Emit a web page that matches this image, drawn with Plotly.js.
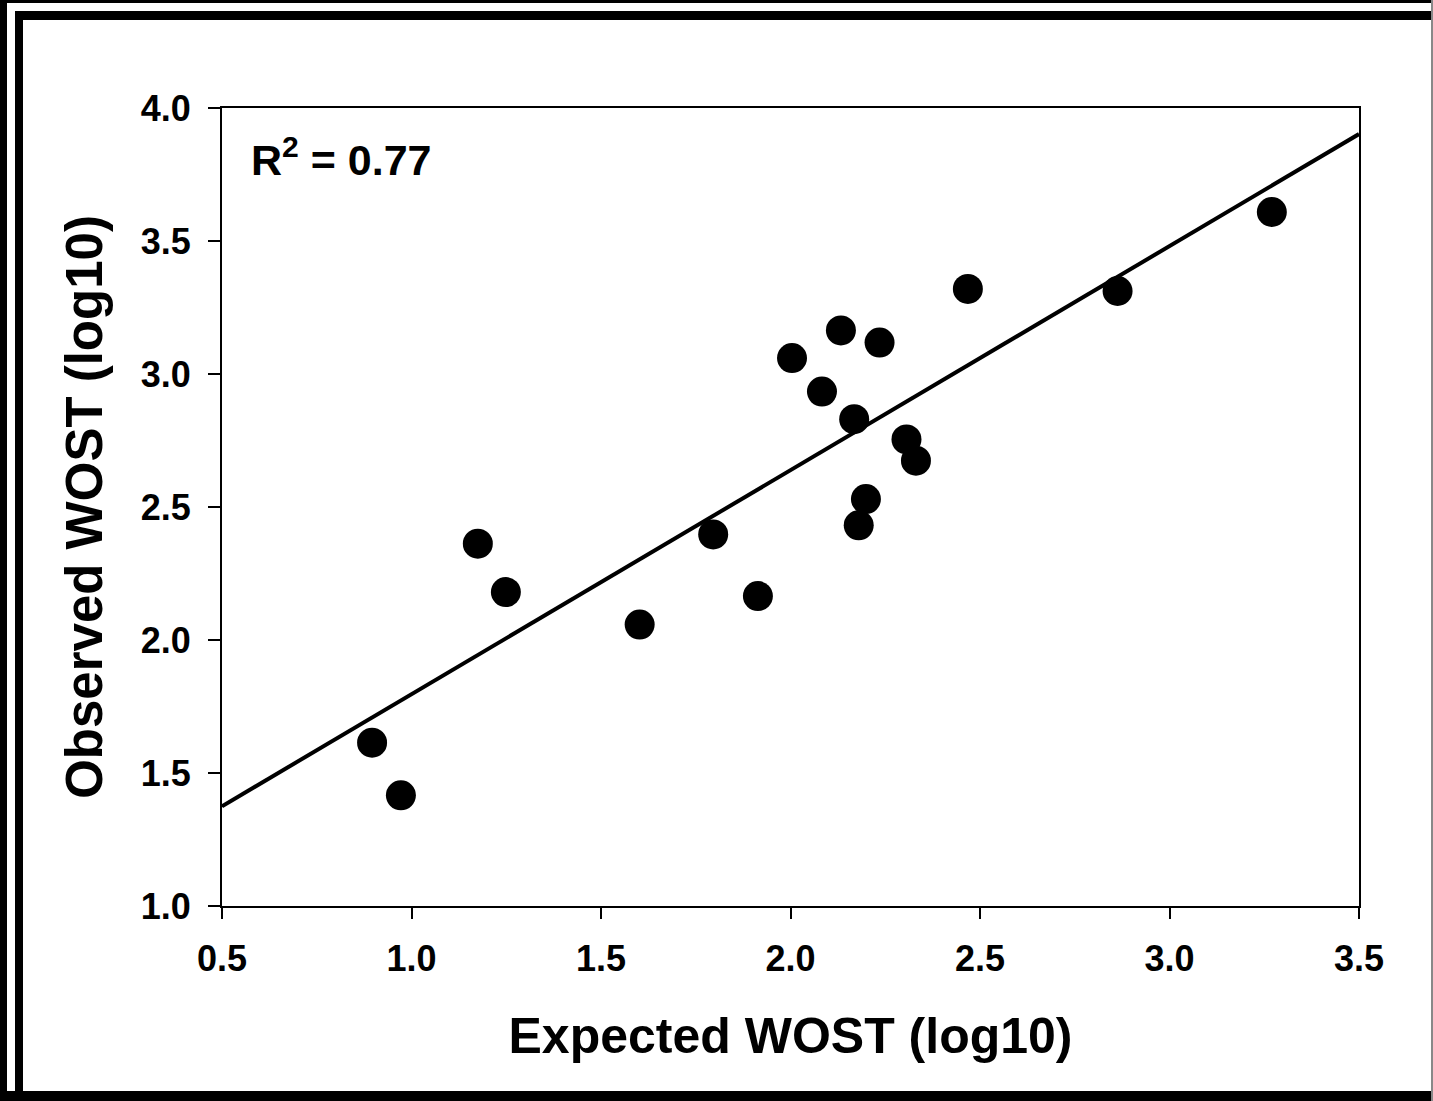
<!DOCTYPE html>
<html>
<head>
<meta charset="utf-8">
<script src="https://cdn.plot.ly/plotly-3.0.1.min.js"></script>
<style>
  html, body { margin: 0; padding: 0; background: #fff; }
  #wrap { position: relative; width: 1433px; height: 1101px; overflow: hidden; background: #fff; }
  #chart { position: absolute; left: 0; top: 0; width: 1433px; height: 1101px; }
  .fr { position: absolute; background: #000; }
</style>
</head>
<body>
<div id="wrap">
  <div id="chart"></div>
  <div class="fr" style="left:0;top:0;width:7px;height:1101px;"></div>
  <div class="fr" style="left:0;top:0;width:1433px;height:3px;"></div>
  <div class="fr" style="left:15px;top:11px;width:8px;height:1090px;"></div>
  <div class="fr" style="left:15px;top:11px;width:1418px;height:9px;"></div>
  <div class="fr" style="left:0;top:1091px;width:1433px;height:10px;"></div>
  <div class="fr" style="left:1431px;top:0;width:2px;height:1101px;background:#888;"></div>
</div>
<script>
// Observations: expected vs observed WOST (log10)
const expectedWOST = [0.896, 0.972, 1.175, 1.249, 1.602, 1.796, 1.914, 2.004, 2.083, 2.133,
                      2.168, 2.180, 2.199, 2.235, 2.306, 2.331, 2.468, 2.863, 3.270];
const observedWOST = [1.614, 1.416, 2.362, 2.180, 2.058, 2.397, 2.165, 3.060, 2.934, 3.164,
                      2.830, 2.431, 2.530, 3.118, 2.754, 2.674, 3.320, 3.312, 3.609];
// Regression line end points
const fitX = [0.5, 3.5];
const fitY = [1.375, 3.902];
const r2Label = "R<sup>2</sup> = 0.77";
const xTicks = [0.5, 1.0, 1.5, 2.0, 2.5, 3.0, 3.5];
const xTickText = ["0.5", "1.0", "1.5", "2.0", "2.5", "3.0", "3.5"];
const yTicks = [1.0, 1.5, 2.0, 2.5, 3.0, 3.5, 4.0];
const yTickText = ["1.0", "1.5", "2.0", "2.5", "3.0", "3.5", "4.0"];

const FONT = "Liberation Sans, Arial, sans-serif";

const traces = [
  {
    x: fitX, y: fitY, type: "scatter", mode: "lines",
    line: { color: "#000", width: 4 }, hoverinfo: "skip", showlegend: false
  },
  {
    x: expectedWOST, y: observedWOST, type: "scatter", mode: "markers",
    marker: { color: "#000", size: 30, line: { width: 0 } }, showlegend: false
  }
];

const layout = {
  width: 1433, height: 1101,
  paper_bgcolor: "#fff", plot_bgcolor: "#fff",
  margin: { l: 222, r: 74, t: 108, b: 195 },
  font: { family: FONT, color: "#000", weight: "bold" },
  showlegend: false,
  xaxis: {
    range: [0.5, 3.5], autorange: false,
    tickvals: xTicks, ticktext: xTickText,
    ticks: "outside", ticklen: 11, tickwidth: 2, tickcolor: "#000",
    showline: true, linewidth: 2, linecolor: "#000", mirror: true,
    showgrid: false, zeroline: false,
    tickfont: { family: FONT, size: 36, color: "#000", weight: "bold" },
    ticklabelstandoff: 9,
    title: { text: "Expected WOST (log10)", font: { family: FONT, size: 50, color: "#000", weight: "bold" }, standoff: 40 }
  },
  yaxis: {
    range: [1.0, 4.0], autorange: false,
    tickvals: yTicks, ticktext: yTickText,
    ticks: "outside", ticklen: 12, tickwidth: 2, tickcolor: "#000",
    showline: true, linewidth: 2, linecolor: "#000", mirror: true,
    showgrid: false, zeroline: false,
    tickfont: { family: FONT, size: 36, color: "#000", weight: "bold" },
    ticklabelstandoff: 10,
    title: { text: "Observed WOST (log10)", font: { family: FONT, size: 51, color: "#000", weight: "bold" }, standoff: 22 }
  },
  annotations: [
    {
      text: r2Label, xref: "paper", yref: "paper",
      x: 0.024, y: 0.939, xanchor: "left", yanchor: "middle",
      showarrow: false,
      font: { family: FONT, size: 43, color: "#000", weight: "bold" }
    }
  ]
};

Plotly.newPlot("chart", traces, layout, { staticPlot: true, displayModeBar: false });
</script>
</body>
</html>
